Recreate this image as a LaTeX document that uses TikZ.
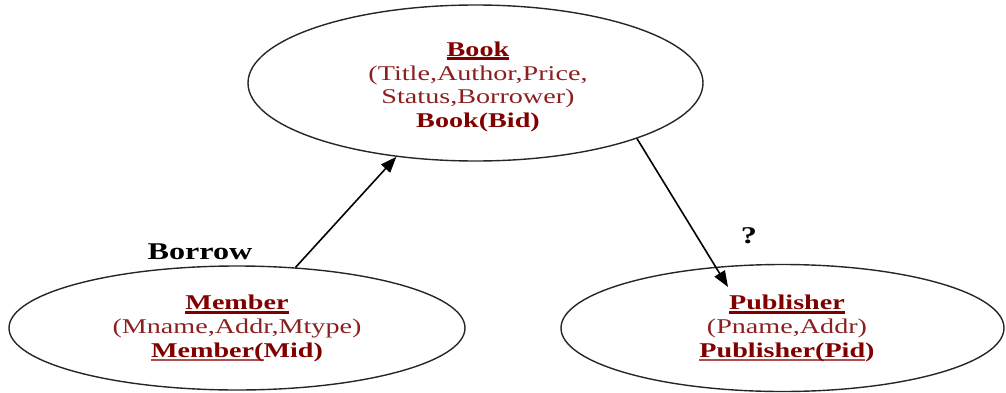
\documentclass[tikz,border=0pt]{standalone}
\usepackage{fontspec}
\setmainfont[FakeStretch=1.34]{Liberation Serif}
\usetikzlibrary{shapes.geometric,arrows.meta}

\definecolor{titlered}{RGB}{128,0,0}
\definecolor{attrred}{RGB}{138,32,32}
\definecolor{keyline}{RGB}{170,80,80}

% underline drawn as a rule: thickness, colour, text
\newsavebox\ulbox
\newcommand\thickul[3]{\sbox\ulbox{#3}\rlap{\color{#2}\rule[-3.6pt]{\wd\ulbox}{#1}}\usebox\ulbox}

\tikzset{
  entity/.style={ellipse, draw=black!85, line width=1.4pt, inner sep=0pt},
  entitytext/.style={align=center, inner sep=0pt,
    font=\fontsize{21}{23.6}\selectfont, text=titlered},
  rel/.style={draw=black, line width=1.6pt,
    -{Triangle[length=16pt,width=12pt]}},
  tag/.style={inner sep=0pt, font=\fontsize{24}{26}\selectfont\bfseries, text=black}
}

\begin{document}
\begin{tikzpicture}[x=1pt,y=1pt]
\useasboundingbox (0,0) rectangle (1006,392);

% entity outlines
\node[entity, minimum width=455pt, minimum height=156pt] (book) at (475.5,309) {};
\node[entity, minimum width=456pt, minimum height=124pt] (member) at (237,64) {};
\node[entity, minimum width=443pt, minimum height=127pt] (pub) at (782.5,64) {};

% entity contents
\node[entitytext] (booktext) at (478,305) {%
  {\bfseries\thickul{2.8pt}{titlered}{Book}}\\
  {\color{attrred}(Title,Author,Price,}\\
  {\color{attrred}Status,Borrower)}\\
  {\bfseries Book(Bid)}};

\node[entitytext] (membertext) at (237,63.5) {%
  {\bfseries\thickul{2.8pt}{titlered}{Member}}\\
  {\color{attrred}(Mname,Addr,Mtype)}\\
  {\bfseries\thickul{1.4pt}{keyline}{Member(}Mid)}};

\node[entitytext] (pubtext) at (787,63.5) {%
  {\bfseries\thickul{2.8pt}{titlered}{Publisher}}\\
  {\color{attrred}(Pname,Addr)}\\
  {\bfseries\thickul{1.4pt}{keyline}{Publisher(Pid}) }};

% relationships
\draw[rel] (member.46) -- (book.223);
\coordinate (pubtip) at ([shift={(-54.5,41)}]pub.center);
\draw[rel] (book.-19) -- (pubtip);

% relationship labels
\node[tag, anchor=base] (borrow) at (200,133) {Borrow};
\node[tag, anchor=base] (query) at (749,149) {?};
\end{tikzpicture}
\end{document}
